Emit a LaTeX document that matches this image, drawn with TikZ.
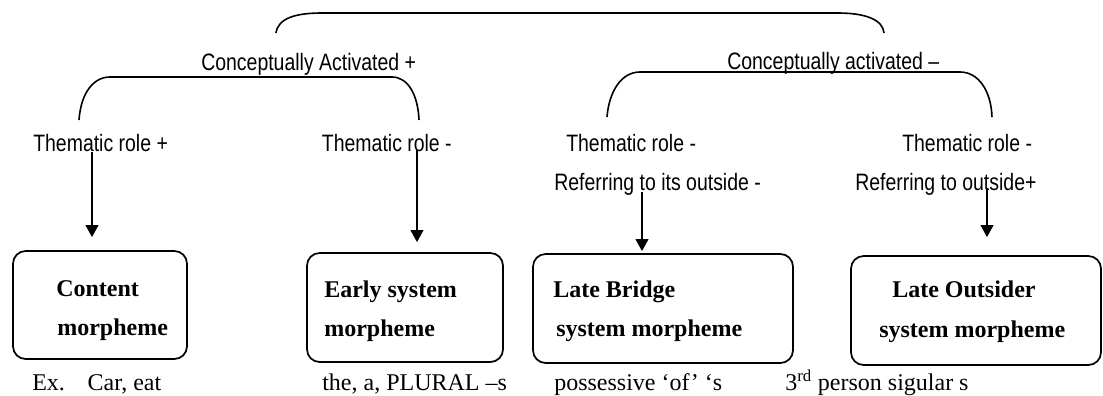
\documentclass[tikz,border=0pt]{standalone}
\usepackage{fontspec}
\setmainfont{Liberation Serif}
\newfontfamily\narrowsans[FakeStretch=0.82]{Liberation Sans}
\usetikzlibrary{arrows.meta}
\begin{document}
\begin{tikzpicture}[x=0.75pt,y=-0.75pt,
  lbl/.style={font=\narrowsans\fontsize{17.8}{20}\selectfont, inner sep=0pt, anchor=base west},
  boxtxt/.style={font=\fontsize{18}{20}\selectfont\bfseries, inner sep=0pt, anchor=base west},
  extxt/.style={font=\fontsize{18}{20}\selectfont, inner sep=0pt, anchor=base west},
  mbox/.style={draw, rounded corners=9.5pt, line width=1.3pt, inner sep=0pt},
  brk/.style={line width=1.2pt},
  arr/.style={line width=1.3pt, -{Triangle[width=9.5pt,length=9pt]}}]
\path[use as bounding box] (0,0) rectangle (1103,396);

% labels
\node[lbl] (caP) at (201,70) {Conceptually Activated +};
\node[lbl] (caM) at (727,69) {Conceptually activated –};
\node[lbl] (tr1) at (33,151) {Thematic role +};
\node[lbl,anchor=base east] (tr2) at (452,151) {Thematic role -};
\node[lbl] (tr3) at (566,151) {Thematic role -};
\node[lbl] (tr4) at (902,151) {Thematic role -};
\node[lbl] (rf3) at (554,190) {Referring to its outside -};
\node[lbl] (rf4) at (855,190) {Referring to outside+};

% boxes
\node[mbox, minimum width=130.5pt, minimum height=81pt] (b1) at (100,305) {};
\node[mbox, minimum width=147pt, minimum height=81.75pt] (b2) at (405,307.5) {};
\node[mbox, minimum width=195pt, minimum height=81.75pt] (b3) at (663,308.5) {};
\node[mbox, minimum width=187.5pt, minimum height=81.75pt] (b4) at (976,310.5) {};

% box texts
\node[boxtxt] (b1a) at (56,296) {Content};
\node[boxtxt] (b1b) at (57,335) {morpheme};
\node[boxtxt] (b2a) at (324,297) {Early system};
\node[boxtxt] (b2b) at (324,336) {morpheme};
\node[boxtxt] (b3a) at (553,297) {Late Bridge};
\node[boxtxt] (b3b) at (556,336) {system morpheme};
\node[boxtxt] (b4a) at (892,297) {Late Outsider};
\node[boxtxt] (b4b) at (879,337) {system morpheme};

% examples
\node[extxt] (e1) at (32,390) {Ex.\hspace{17pt}Car, eat};
\node[extxt] (e2) at (322,390) {the, a, PLURAL –s};
\node[extxt] (e3) at (554,390) {possessive ‘of’ ‘s};
\node[extxt] (e4) at (785,390) {3\textsuperscript{rd} person sigular s};

% bracket ends
\coordinate (tL) at (276,33);
\coordinate (tR) at (884,33);
\coordinate (lL) at (79,120);
\coordinate (lR) at (419,120);
\coordinate (rL) at (607,117);
\coordinate (rR) at (992,117);

\draw[brk] (tL) .. controls (278,18) and (296,13) .. (322,13) -- (838,13)
  .. controls (866,13) and (883,20) .. (tR);
\draw[brk] (lL) .. controls (81,92) and (94,77) .. (110,77) -- (392,77)
  .. controls (408,77) and (418,95) .. (lR);
\draw[brk] (rL) .. controls (609,92) and (621,72) .. (640,72) -- (960,72)
  .. controls (978,72) and (991,90) .. (rR);

% arrows
\coordinate (s1) at (92,152);
\coordinate (s2) at (417,150);
\coordinate (s3) at (642,192);
\coordinate (s4) at (987,188);
\draw[arr, shorten >=9.75pt] (s1) -- (s1 |- b1.north);
\draw[arr, shorten >=7.5pt] (s2) -- (s2 |- b2.north);
\draw[arr, shorten >=1.5pt] (s3) -- (s3 |- b3.north);
\draw[arr, shorten >=13.5pt] (s4) -- (s4 |- b4.north);
\end{tikzpicture}
\end{document}
